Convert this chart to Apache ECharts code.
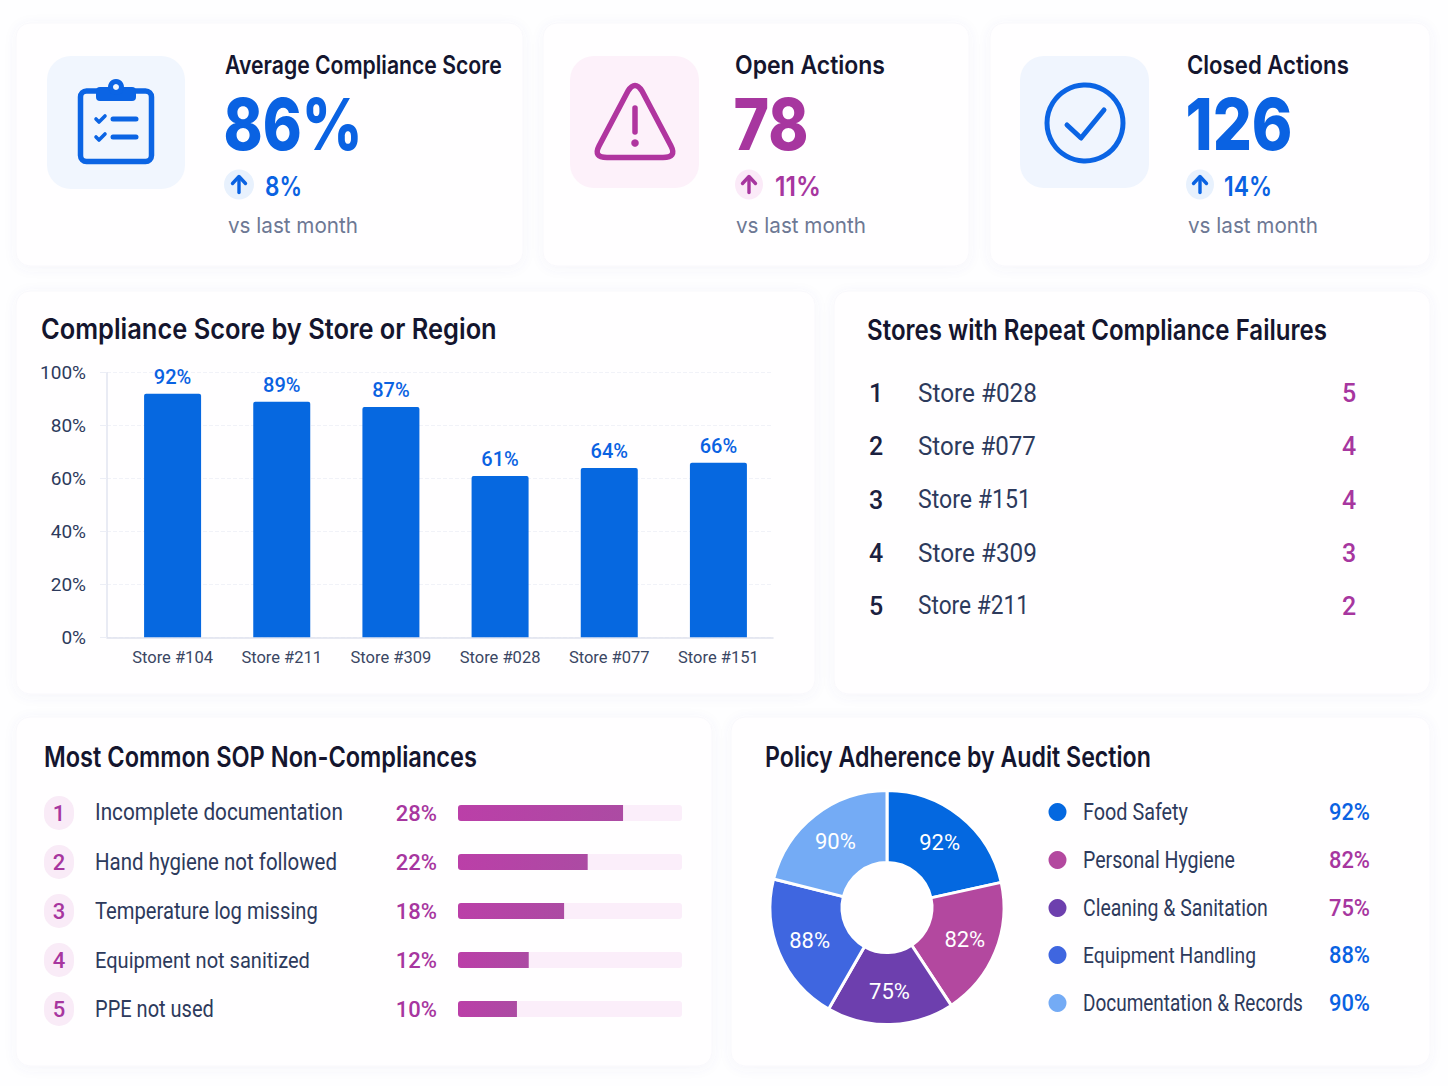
<!DOCTYPE html>
<html>
<head>
<meta charset="utf-8">
<title>Compliance dashboard</title>
<style>
html,body{margin:0;padding:0;background:#fefeff}
#chart{width:1448px;height:1086px}
</style>
<script src="https://cdn.jsdelivr.net/npm/echarts@6/dist/echarts.min.js"></script>
</head>
<body>
<div id="chart"></div>
<script>
// KPI figures
const kpiTitles = ['Average Compliance Score', 'Open Actions', 'Closed Actions'];
const kpiValues = ['86%', '78', '126'];
const kpiDeltas = ['8%', '11%', '14%'];
const kpiNote = 'vs last month';

// Compliance score by store
const storeNames = ['Store #104', 'Store #211', 'Store #309', 'Store #028', 'Store #077', 'Store #151'];
const storeScores = [92, 89, 87, 61, 64, 66];

// Repeat failures
const repeatStores = ['Store #028', 'Store #077', 'Store #151', 'Store #309', 'Store #211'];
const repeatCounts = [5, 4, 4, 3, 2];

// SOP non-compliances
const sopIssues = ['Incomplete documentation', 'Hand hygiene not followed', 'Temperature log missing', 'Equipment not sanitized', 'PPE not used'];
const sopShares = [28, 22, 18, 12, 10];

// Policy adherence
const auditSections = ['Food Safety', 'Personal Hygiene', 'Cleaning & Sanitation', 'Equipment Handling', 'Documentation & Records'];
const auditScores = [92, 82, 75, 88, 90];

const BLUE = '#0a62e2', PURPLE = '#a7369f', INK = '#14152e', SLATE = '#2d3a5c', MUTED = '#6d7894';
const sliceColors = ['#0468e0', '#b3489f', '#6d3fae', '#3f66e0', '#74abf5'];
const legendValueColors = [BLUE, PURPLE, PURPLE, BLUE, BLUE];

// Rounded warning triangle used by the Open Actions card
echarts.graphic.registerShape('warningTriangle', echarts.graphic.extendPath(
  'M628 91 Q635 80 642 91 L671 146 Q677 157.5 663 157.5 L607 157.5 Q593 157.5 599 146 Z', {}
));

const measureCtx = document.createElement('canvas').getContext('2d');

// Text element whose width can be fitted to a given span
function text(str, x, y, o) {
  const family = o.family || 'Inter';
  const weight = o.weight || 400;
  let scaleX = 1;
  if (o.w) {
    measureCtx.font = weight + ' ' + o.size + 'px "' + family + '"';
    scaleX = o.w / measureCtx.measureText(str).width;
  }
  return {
    type: 'text', x: x, y: y, scaleX: scaleX, z: 5,
    style: {
      text: str, fontSize: o.size, fontWeight: weight, fontFamily: family,
      fill: o.color, textAlign: o.align || 'left', textVerticalAlign: 'middle'
    }
  };
}

function card(x0, y0, x1, y1) {
  return {
    type: 'rect', z: -10,
    shape: { x: x0, y: y0, width: x1 - x0, height: y1 - y0, r: 14 },
    style: { fill: '#fffeff', stroke: '#f9f8fc', lineWidth: 1, shadowBlur: 12, shadowColor: 'rgba(110,100,170,0.06)', shadowOffsetY: 2 }
  };
}

function iconBox(x0, y0, x1, y1, fill) {
  return { type: 'rect', z: 1, shape: { x: x0, y: y0, width: x1 - x0, height: y1 - y0, r: 24 }, style: { fill: fill } };
}

function poly(points, color, width) {
  return {
    type: 'polyline', z: 3, shape: { points: points },
    style: { stroke: color, lineWidth: width, fill: null, lineCap: 'round', lineJoin: 'round' }
  };
}

function deltaArrow(cx, cy, rx, bg, color) {
  return [
    { type: 'ellipse', z: 2, shape: { cx: cx, cy: cy, rx: rx, ry: 15 }, style: { fill: bg } },
    poly([[cx, cy + 8], [cx, cy - 7]], color, 3.4),
    poly([[cx - 6.5, cy - 1], [cx, cy - 8], [cx + 6.5, cy - 1]], color, 3.4)
  ];
}

const shapes = [];
shapes.push(card(16, 23, 523, 266), card(543, 23, 969, 266), card(990, 23, 1430, 266));
shapes.push(card(16, 291, 815, 694), card(834, 291, 1430, 694));
shapes.push(card(16, 717, 712, 1066), card(731, 717, 1430, 1066));

shapes.push(iconBox(47, 56, 185, 189, '#f1f6fe'), iconBox(570, 56, 699, 188, '#fdf1fa'), iconBox(1020, 56, 1149, 188, '#f0f5fe'));

// Clipboard icon
shapes.push(
  { type: 'rect', z: 3, shape: { x: 80.5, y: 91, width: 71, height: 70.5, r: 6 }, style: { fill: null, stroke: '#0b64e4', lineWidth: 5.5 } },
  { type: 'rect', z: 3, shape: { x: 96, y: 87, width: 40, height: 14, r: 4 }, style: { fill: '#0b64e4' } },
  { type: 'circle', z: 3, shape: { cx: 116, cy: 87, r: 8 }, style: { fill: '#0b64e4' } },
  { type: 'circle', z: 4, shape: { cx: 116, cy: 87, r: 3 }, style: { fill: '#f1f6fe' } },
  poly([[96, 119], [99, 122], [105, 116]], '#0b64e4', 3.6),
  poly([[96, 137], [99, 140], [105, 134]], '#0b64e4', 3.6),
  poly([[113, 119], [136, 119]], '#0b64e4', 5),
  poly([[113, 137], [136, 137]], '#0b64e4', 5)
);

// Warning icon
shapes.push(
  { type: 'warningTriangle', z: 3, style: { fill: null, stroke: '#b0359f', lineWidth: 5.5, lineJoin: 'round' } },
  poly([[635, 108], [635, 132]], '#b0359f', 5.5),
  { type: 'circle', z: 3, shape: { cx: 635, cy: 143, r: 3.8 }, style: { fill: '#b0359f' } }
);

// Check icon
shapes.push(
  { type: 'circle', z: 3, shape: { cx: 1085, cy: 123, r: 38 }, style: { fill: null, stroke: '#0b64e4', lineWidth: 5 } },
  poly([[1067, 125], [1081, 138], [1104, 110]], '#0b64e4', 5)
);

// KPI text blocks
const kpiX = [225, 735, 1187];
const kpiValueX = [223.5, 733.5, 1185.5];
const kpiTitleW = [277, 150, 162];
const kpiValueW = [139, 75, 107];
const kpiColors = [BLUE, PURPLE, BLUE];
const deltaX = [265, 775, 1224];
const deltaW = [37, 46, 48];
const arrowX = [239, 749, 1200];
const arrowBg = ['#e8f1fd', '#fbeaf8', '#e8f1fd'];
const noteX = [228, 736, 1188];
kpiTitles.forEach(function (title, i) {
  shapes.push(text(title, kpiX[i], 65, { size: 25, weight: 600, color: INK, w: kpiTitleW[i] }));
  shapes.push(text(kpiValues[i], kpiValueX[i], 124, { size: 72, weight: 800, color: kpiColors[i], w: kpiValueW[i] }));
  shapes.push(text(kpiDeltas[i], deltaX[i], 186, { size: 27, weight: 600, color: kpiColors[i], w: deltaW[i] }));
  shapes.push(text(kpiNote, noteX[i], 224.5, { size: 22, weight: 400, color: MUTED, w: 130 }));
  deltaArrow(arrowX[i], 184.5, i === 0 ? 15 : 14, arrowBg[i], kpiColors[i]).forEach(function (s) { shapes.push(s); });
});

// Panel headings
shapes.push(text('Compliance Score by Store or Region', 41, 329, { size: 28, weight: 600, color: INK, w: 456 }));
shapes.push(text('Stores with Repeat Compliance Failures', 867, 330, { size: 28, weight: 600, color: INK, w: 460 }));
shapes.push(text('Most Common SOP Non-Compliances', 44, 757, { size: 28, weight: 600, color: INK, w: 433 }));
shapes.push(text('Policy Adherence by Audit Section', 765, 757, { size: 28, weight: 600, color: INK, w: 386 }));

// Repeat failure list
const rowY = [393, 446, 500, 553, 606];
const repeatW = [119, 118, 113, 119, 111];
repeatStores.forEach(function (store, i) {
  shapes.push(text(String(i + 1), 876, rowY[i], { size: 25, weight: 500, color: '#1b2140', align: 'center', family: 'Roboto' }));
  shapes.push(text(store, 918, rowY[i], { size: 25, weight: 400, color: SLATE, family: 'Roboto', w: repeatW[i] }));
  shapes.push(text(String(repeatCounts[i]), 1349, rowY[i], { size: 25, weight: 500, color: PURPLE, align: 'center', family: 'Roboto' }));
});

// SOP issue names beside the ranked bars
const sopRowY = [812.5, 862, 911, 960, 1009];
const sopNameW = [248, 242, 223, 215, 119];
sopIssues.forEach(function (issue, i) {
  shapes.push(text(issue, 95, sopRowY[i], { size: 23, color: SLATE, family: 'Roboto', w: sopNameW[i] }));
});

// Legend of the audit section ring
const legendY = [812, 860, 908, 955, 1003];
const legendW = [105, 152, 185, 173, 220];
auditSections.forEach(function (section, i) {
  shapes.push({ type: 'circle', z: 3, shape: { cx: 1057.5, cy: legendY[i], r: 9 }, style: { fill: sliceColors[i] } });
  shapes.push(text(section, 1083, legendY[i], { size: 23, color: SLATE, family: 'Roboto', w: legendW[i] }));
  shapes.push(text(auditScores[i] + '%', 1329, legendY[i], { size: 23, weight: 500, color: legendValueColors[i], family: 'Roboto', w: 41 }));
});

const issueRich = {
  rank: { width: 30, height: 34, align: 'center', verticalAlign: 'middle', backgroundColor: '#f9ebf7', borderRadius: 16, color: PURPLE, fontSize: 22, fontWeight: 500, fontFamily: 'Roboto' }
};

const option = {
  backgroundColor: '#fefeff',
  animation: false,
  textStyle: { fontFamily: 'Roboto' },
  graphic: { elements: shapes },
  grid: [
    { left: 107, top: 372.7, width: 666, height: 264.6 },
    { left: 118, top: 372.7, width: 655, height: 264.6 },
    { left: 458, top: 788.5, width: 224, height: 245 }
  ],
  xAxis: [
    { gridIndex: 0, type: 'category', data: storeNames, axisLine: { lineStyle: { color: '#dfe2ee', width: 1.5 } }, axisTick: { show: false }, axisLabel: { show: false } },
    { gridIndex: 1, type: 'category', data: storeNames, axisLine: { show: false }, axisTick: { show: false },
      axisLabel: { color: '#3a4663', fontSize: 16.5, margin: 12, fontFamily: 'Roboto' } },
    { gridIndex: 2, type: 'value', min: 0, max: 38, show: false }
  ],
  yAxis: [
    { gridIndex: 0, type: 'value', min: 0, max: 100, interval: 20,
      axisLine: { show: true, lineStyle: { color: '#e2e4f0', width: 1.5 } },
      axisTick: { show: true, length: 7, lineStyle: { color: '#eceef6' } },
      axisLabel: { color: SLATE, fontSize: 19, margin: 21, fontFamily: 'Roboto', formatter: '{value}%' },
      splitLine: { show: true, lineStyle: { color: '#f1f2f8', type: 'dashed' } } },
    { gridIndex: 1, type: 'value', min: 0, max: 100, interval: 20, show: false },
    { gridIndex: 2, type: 'category', inverse: true, data: sopIssues,
      axisLine: { show: false }, axisTick: { show: false },
      axisLabel: {
        align: 'left', margin: 414, rich: issueRich,
        formatter: function (value) { return '{rank|' + (sopIssues.indexOf(value) + 1) + '}'; }
      } }
  ],
  series: [
    {
      type: 'bar', xAxisIndex: 1, yAxisIndex: 1, data: storeScores, barWidth: 57,
      itemStyle: { color: '#0668e0', borderRadius: [2, 2, 0, 0] },
      label: { show: true, position: 'top', distance: 7, formatter: '{c}%', color: BLUE, fontSize: 20, fontWeight: 500, fontFamily: 'Roboto' }
    },
    {
      type: 'bar', xAxisIndex: 2, yAxisIndex: 2, data: sopShares, barWidth: 16, showBackground: true,
      backgroundStyle: { color: '#fbeefa', borderRadius: 3 },
      itemStyle: {
        borderRadius: [3, 0, 0, 3],
        color: { type: 'linear', x: 0, y: 0, x2: 1, y2: 0, colorStops: [{ offset: 0, color: '#bb3fa8' }, { offset: 1, color: '#ac4ba3' }] }
      },
      label: { show: true, position: 'left', distance: 21, formatter: '{c}%', color: PURPLE, fontSize: 22, fontWeight: 500, fontFamily: 'Roboto' }
    },
    {
      type: 'pie', center: [887, 907.6], radius: [45, 117], startAngle: 90, clockwise: true,
      data: auditSections.map(function (name, i) {
        return { name: name, value: auditScores[i], itemStyle: { color: sliceColors[i] } };
      }),
      itemStyle: { borderColor: '#ffffff', borderWidth: 3 },
      label: { position: 'inside', formatter: '{c}%', color: '#ffffff', fontSize: 22, fontFamily: 'Roboto' },
      labelLine: { show: false },
      emphasis: { disabled: true }
    }
  ]
};

echarts.init(document.getElementById('chart'), null, { renderer: 'svg' }).setOption(option);
</script>
</body>
</html>
